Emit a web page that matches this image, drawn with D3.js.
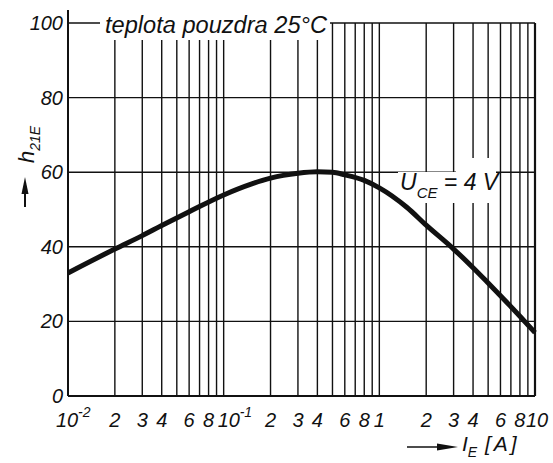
<!DOCTYPE html>
<html>
<head>
<meta charset="utf-8">
<script src="https://cdn.jsdelivr.net/npm/d3@7"></script>
<style>
  body { margin: 0; background: #fff; }
  svg text { font-family: "Liberation Sans", Arial, sans-serif; font-style: italic; fill: #111; }
</style>
</head>
<body>
<div id="chart"></div>
<script>
// h21E vs emitter current
const currentA = [0.01, 0.02, 0.03, 0.04, 0.06, 0.1, 0.15, 0.2, 0.3, 0.4, 0.5, 0.6, 0.8, 1, 1.5, 2, 3, 4, 5, 6, 8, 10];
const h21e     = [33, 39.4, 43, 45.7, 49.4, 53.9, 56.8, 58.4, 59.7, 60.1, 60, 59.3, 57.8, 55.8, 50.6, 45.8, 39.4, 34.4, 30.3, 26.9, 21.4, 17];

const yTicks = [0, 20, 40, 60, 80, 100];
const xGrid = [];
[0.01, 0.1, 1].forEach(dec => { for (let k = 1; k <= 9; k++) xGrid.push(+(dec * k).toPrecision(3)); });
xGrid.push(10);
// tick labels: [value, base, exponent]
const xLabels = [
  [0.01, "10", "-2"], [0.02, "2"], [0.03, "3"], [0.04, "4"], [0.06, "6"], [0.08, "8"],
  [0.1, "10", "-1"], [0.2, "2"], [0.3, "3"], [0.4, "4"], [0.6, "6"], [0.8, "8"],
  [1, "1"], [2, "2"], [3, "3"], [4, "4"], [6, "6"], [8, "8"], [10, "10"]
];

const W = 553, H = 463;
const plotL = 68, plotR = 535, plotT = 23, plotB = 396;
const ink = "#111";

const svg = d3.select("#chart").append("svg")
  .attr("width", W).attr("height", H);

const x = d3.scaleLog().domain([0.01, 10]).range([plotL, plotR]);
const y = d3.scaleLinear().domain([0, 100]).range([plotB, plotT]);

// grid
const grid = svg.append("g").attr("stroke", ink).attr("stroke-width", 1.4);
grid.selectAll("line.v").data(xGrid).join("line")
  .attr("class", "v")
  .attr("x1", d => x(d)).attr("x2", d => x(d))
  .attr("y1", y(100)).attr("y2", y(0))
  .attr("stroke-width", d => d === 10 ? 2.2 : 1.4);
grid.selectAll("line.h").data(yTicks).join("line")
  .attr("class", "h")
  .attr("x1", plotL).attr("x2", plotR)
  .attr("y1", d => y(d)).attr("y2", d => y(d))
  .attr("stroke-width", d => d === 0 ? 2 : 1.4);

// left axis runs a bit above the frame
svg.append("line")
  .attr("x1", plotL).attr("x2", plotL).attr("y1", 10).attr("y2", plotB)
  .attr("stroke", ink).attr("stroke-width", 2);

// white patches behind the lettering
svg.append("rect").attr("x", 100).attr("y", 4).attr("width", 230).attr("height", 36).attr("fill", "#fff");
svg.append("rect").attr("x", 398).attr("y", 172).attr("width", 98).attr("height", 31).attr("fill", "#fff");
svg.append("rect").attr("x", 456).attr("y", 158).attr("width", 40).attr("height", 16).attr("fill", "#fff");

// curve
const pts = currentA.map((c, i) => [c, h21e[i]]);
svg.append("path")
  .datum(pts)
  .attr("fill", "none")
  .attr("stroke", ink)
  .attr("stroke-width", 5)
  .attr("stroke-linejoin", "round")
  .attr("d", d3.line().x(d => x(d[0])).y(d => y(d[1])).curve(d3.curveMonotoneX));

// y tick labels
svg.append("g").selectAll("text").data(yTicks).join("text")
  .attr("x", 63).attr("y", d => y(d) + 7)
  .attr("text-anchor", "end")
  .attr("font-size", 20)
  .text(d => d);

// x tick labels; the powers of ten are set a little right so they clear the 8s
const xl = svg.append("g").selectAll("g").data(xLabels).join("g")
  .attr("transform", d => `translate(${x(d[0])},427)`);
xl.append("text")
  .attr("text-anchor", d => d[2] ? "start" : "middle")
  .attr("x", d => d[2] ? (d[0] === 0.01 ? -12 : -6) : (d[0] === 10 ? 2 : 0))
  .attr("font-size", 20)
  .text(d => d[1]);
xl.filter(d => d[2]).append("text")
  .attr("x", d => d[0] === 0.01 ? 10 : 16).attr("y", -10)
  .attr("font-size", 14)
  .text(d => d[2]);

// title inside the frame
svg.append("text")
  .attr("x", 105).attr("y", 33)
  .attr("font-size", 23)
  .attr("textLength", 222).attr("lengthAdjust", "spacingAndGlyphs")
  .text("teplota pouzdra 25°C");

// curve label
const uce = svg.append("text").attr("x", 400).attr("y", 190).attr("font-size", 23);
uce.append("tspan").text("U");
uce.append("tspan").attr("dy", 8).attr("font-size", 15).text("CE");
uce.append("tspan").attr("dy", -8).text(" = 4 V");

// y axis title with arrow
const yt = svg.append("text")
  .attr("transform", "translate(34,163) rotate(-90)")
  .attr("font-size", 22);
yt.append("tspan").text("h");
yt.append("tspan").attr("dy", 6).attr("font-size", 14).text("21E");

svg.append("line").attr("x1", 25).attr("x2", 25).attr("y1", 207).attr("y2", 190)
  .attr("stroke", ink).attr("stroke-width", 2);
svg.append("path").attr("d", "M25,177 L21.5,194 L28.5,194 Z").attr("fill", ink);

// x axis title with arrow
svg.append("line").attr("x1", 407).attr("x2", 440).attr("y1", 447).attr("y2", 447)
  .attr("stroke", ink).attr("stroke-width", 1.6);
svg.append("path").attr("d", "M458,447 L437,443.5 L437,450.5 Z").attr("fill", ink);
const xt = svg.append("text").attr("x", 462).attr("y", 451).attr("font-size", 21);
xt.append("tspan").text("I");
xt.append("tspan").attr("dy", 6).attr("font-size", 14).text("E");
svg.append("text").attr("x", 485).attr("y", 451).attr("font-size", 21)
  .attr("letter-spacing", 3).text("[A]");
</script>
</body>
</html>
